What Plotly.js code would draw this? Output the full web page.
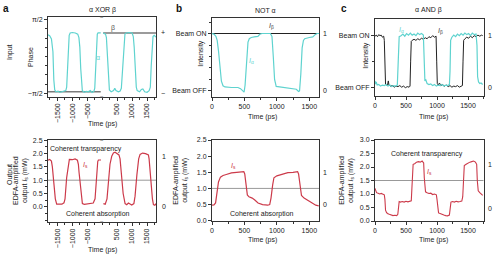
<!DOCTYPE html>
<html><head><meta charset="utf-8">
<script src="https://cdn.plot.ly/plotly-3.0.1.min.js"></script>
<style>html,body{margin:0;padding:0;background:#fff}#chart{width:500px;height:256px}</style>
</head><body><div id="chart"></div>
<script>
// ---------- DATA ----------
// Panel a (alpha XOR beta) — input phase of alpha (rad), time in ps
const xorAlpha = [[-1815,0.92],[-1760,0.88],[-1700,0.75],[-1650,0.2],[-1620,-1.0],[-1590,-1.42],[-1550,-1.5],[-1480,-1.47],[-1420,-1.52],[-1350,-1.5],[-1280,-1.47],[-1220,-1.45],[-1190,-1.3],[-1160,-0.5],[-1130,0.5],[-1106,0.9],[-1073,1.0],[-1000,1.02],[-900,1.0],[-820,0.95],[-780,0.8],[-750,0.4],[-720,-0.5],[-690,-1.2],[-666,-1.45],[-600,-1.52],[-530,-1.48],[-470,-1.5],[-400,-1.45],[-340,-1.53],[-280,-1.48],[-250,-1.35],[-220,-0.5],[-190,0.5],[-165,0.95],[-140,1.0],[-50,1.0],[null,null],[30,1.0],[110,0.95],[140,0.8],[165,0.3],[200,-0.8],[240,-1.42],[300,-1.5],[380,-1.45],[420,-1.35],[460,-1.45],[540,-1.5],[600,-1.47],[640,-1.35],[680,-0.5],[720,0.5],[760,0.95],[800,1.0],[900,1.02],[1000,1.0],[1040,0.85],[1070,0.4],[1100,-0.6],[1140,-1.3],[1170,-1.45],[1250,-1.5],[1310,-1.4],[1360,-1.38],[1420,-1.5],[1500,-1.52],[1570,-1.45],[1610,-1.3],[1640,-0.4],[1670,0.5],[1700,0.85],[1740,0.9],[1800,0.82]];
const xorBeta = [[-1815,-1.5],[-50,-1.5],[null,null],[30,1.0],[1800,1.0]];
// Panel a output Is (mW)
const xorOut = [[-1814,1.75],[-1760,1.78],[-1700,1.72],[-1669,1.5],[-1620,0.9],[-1570,0.3],[-1524,0.1],[-1450,0.09],[-1350,0.1],[-1280,0.15],[-1245,0.3],[-1190,1.1],[-1133,1.7],[-1100,1.78],[-1000,1.77],[-910,1.8],[-830,1.75],[-798,1.6],[-776,1.3],[-720,0.6],[-664,0.12],[-600,0.09],[-500,0.1],[-400,0.12],[-300,0.14],[-240,0.3],[-190,1.2],[-150,1.7],[-128,1.76],[-39,1.76],[null,null],[39,0.12],[100,0.1],[160,0.3],[206,0.9],[260,1.6],[318,1.9],[374,2.02],[430,2.05],[486,2.02],[560,1.95],[597,1.8],[631,1.4],[700,0.5],[765,0.12],[820,0.08],[876,0.14],[930,0.1],[988,0.07],[1060,0.12],[1099,0.4],[1160,1.2],[1220,1.8],[1267,1.97],[1350,2.02],[1450,2.0],[1546,1.95],[1569,1.8],[1620,1.0],[1680,0.3],[1714,0.08],[1760,0.06],[1803,0.12]];
// Panel b (NOT alpha)
const notAlpha = [[0,1.0],[30,0.99],[60,0.95],[80,0.88],[100,0.7],[120,0.4],[145,0.17],[170,0.09],[200,0.07],[300,0.06],[400,0.06],[440,0.04],[477,0.0],[495,-0.02],[510,0.1],[530,0.5],[555,0.85],[575,0.91],[605,0.93],[650,0.94],[708,0.95],[740,0.99],[770,1.0],[900,1.0],[925,0.95],[945,0.6],[965,0.2],[990,0.08],[1050,0.07],[1150,0.06],[1250,0.05],[1300,0.03],[1335,-0.01],[1350,0.0],[1370,0.3],[1390,0.75],[1410,0.88],[1430,0.91],[1500,0.93],[1554,0.94],[1590,0.98],[1620,1.0],[1650,1.0]];
const notBeta = [[0,1.0],[1650,1.0]];
const notOut = [[0,0.48],[30,0.49],[55,0.55],[75,0.8],[100,1.2],[130,1.35],[170,1.4],[220,1.43],[300,1.48],[380,1.5],[450,1.51],[490,1.52],[505,1.45],[525,1.1],[545,0.8],[570,0.74],[620,0.7],[660,0.64],[710,0.55],[780,0.5],[860,0.48],[890,0.5],[910,0.7],[935,1.1],[955,1.33],[1000,1.39],[1080,1.44],[1170,1.49],[1250,1.5],[1320,1.52],[1335,1.45],[1355,1.1],[1380,0.78],[1420,0.7],[1480,0.62],[1550,0.52],[1600,0.48],[1646,0.46]];
// Panel c (alpha AND beta)
const andBeta = [[0,0.98],[20,1.0],[40,0.97],[60,1.01],[80,0.99],[100,1.0],[120,0.96],[140,0.98],[150,0.9],[160,0.4],[170,0.06],[185,0.04],[200,0.03],[215,0.12],[225,0.04],[250,0.02],[280,0.03],[310,0.0],[340,0.02],[370,0.01],[400,0.03],[430,0.0],[460,0.02],[490,-0.01],[520,0.01],[550,0.0],[565,0.02],[575,0.5],[585,0.88],[600,0.9],[630,0.92],[660,0.9],[690,0.93],[720,0.91],[750,0.94],[780,0.92],[810,0.95],[840,0.93],[870,0.97],[900,0.95],[930,0.99],[960,0.96],[985,0.98],[995,0.5],[1005,0.07],[1020,0.04],[1040,0.08],[1060,0.03],[1090,0.05],[1120,0.02],[1150,0.04],[1180,0.01],[1210,0.03],[1240,0.0],[1270,0.02],[1300,0.01],[1330,0.03],[1360,0.0],[1390,0.02],[1410,0.03],[1420,0.5],[1430,0.9],[1450,0.93],[1480,0.96],[1510,0.94],[1540,0.98],[1570,0.95],[1600,0.99],[1630,0.97],[1660,1.0],[1690,0.98],[1720,1.0],[1737,0.99]];
const andAlpha = [[0,0.12],[10,0.06],[20,0.1],[35,0.04],[60,0.05],[90,0.02],[120,0.04],[150,0.03],[180,0.05],[210,0.02],[240,0.04],[270,0.01],[300,0.03],[330,0.02],[360,0.04],[368,0.3],[376,0.85],[390,0.97],[420,0.99],[450,1.02],[480,0.98],[510,1.03],[540,1.0],[570,1.04],[600,1.0],[630,1.02],[660,0.99],[690,1.04],[720,1.01],[750,1.03],[780,1.0],[795,0.6],[805,0.12],[820,0.14],[840,0.07],[870,0.05],[900,0.06],[930,0.03],[960,0.05],[990,0.02],[1020,0.04],[1050,0.03],[1080,0.05],[1110,0.02],[1140,0.04],[1170,0.03],[1200,0.05],[1210,0.3],[1220,0.9],[1240,0.96],[1270,1.0],[1300,0.97],[1330,1.02],[1360,0.99],[1390,1.03],[1420,1.0],[1450,1.04],[1480,1.01],[1510,1.03],[1540,0.99],[1570,1.04],[1600,1.01],[1630,1.02],[1645,0.8],[1655,0.2],[1670,0.1],[1690,0.07],[1710,0.08],[1737,0.05]];
const andOut = [[0,1.21],[10,1.15],[25,1.05],[50,1.03],[75,1.0],[100,1.02],[125,0.98],[150,0.97],[160,0.8],[170,0.4],[185,0.32],[200,0.28],[230,0.25],[260,0.22],[290,0.2],[320,0.21],[350,0.2],[368,0.25],[378,0.6],[390,0.72],[410,0.7],[440,0.72],[470,0.7],[500,0.73],[530,0.71],[560,0.72],[585,0.75],[595,1.2],[605,1.9],[615,2.1],[640,2.12],[670,2.18],[700,2.2],[730,2.18],[760,2.22],[785,2.15],[795,1.6],[805,1.15],[815,1.08],[840,1.05],[870,1.02],[900,1.03],[930,0.98],[960,1.0],[990,0.97],[1000,0.8],[1010,0.45],[1025,0.3],[1050,0.28],[1080,0.24],[1110,0.22],[1140,0.2],[1170,0.19],[1200,0.22],[1212,0.5],[1225,0.7],[1250,0.72],[1280,0.7],[1310,0.73],[1340,0.71],[1370,0.72],[1400,0.74],[1415,0.9],[1428,1.8],[1440,2.05],[1470,2.1],[1500,2.15],[1530,2.18],[1560,2.2],[1590,2.22],[1620,2.18],[1640,2.1],[1650,1.5],[1665,1.12],[1690,1.05],[1715,1.0],[1737,0.95]];
// thresholds
const thrXor = 1.0, thrNot = 1.0, thrAnd = 1.5;
// tick labels
const xorTicks = [-1500,-1000,-500,500,1000,1500];
const xorTickText = ['−1500','−1000','−500','500','1000','1500'];
const phaseTicks = [Math.PI/2, -Math.PI/2];
const phaseTickText = ['π/2','−π/2'];
const beamTicks = [0,1];
const beamTickText = ['Beam OFF','Beam ON'];
const powTicks = [0,0.5,1,1.5,2,2.5];
const powTickText = ['0.0','0.5','1.0','1.5','2.0','2.5'];

// ---------- STYLE ----------
const W=500,H=256;
const px = v=>v/W, py = v=>1-v/H;
const FONT = 'Liberation Sans, Arial, sans-serif';
const CYAN='#5fd3cf', RED='#cc3a4a', DARK='#222';
const col = (a,i)=>a.map(p=>p[i]);

function line(data, xa, ya, color, width){
  return {x:col(data,0), y:col(data,1), xaxis:xa, yaxis:ya, type:'scatter', mode:'lines',
    line:{color:color,width:width}, hoverinfo:'skip', showlegend:false};
}
const traces = [
  line(xorBeta,'x','y','#7a7a7a',1.6),
  line(xorAlpha,'x','y',CYAN,1.2),
  line(xorOut,'x2','y2',RED,1.2),
  line(notBeta,'x3','y3',DARK,1),
  line(notAlpha,'x3','y3',CYAN,1.2),
  line(notOut,'x4','y4',RED,1.2),
  line(andBeta,'x5','y5',DARK,1),
  line(andAlpha,'x5','y5',CYAN,1.2),
  line(andOut,'x6','y6',RED,1.1)
];

const base = {showline:true, linecolor:'#333', linewidth:1, mirror:true, ticks:'outside', ticklen:3,
  tickcolor:'#333', tickwidth:1, tickfont:{size:7,color:'#222',family:FONT}, showgrid:false, zeroline:false, fixedrange:true, automargin:false};
function ax(o){ return Object.assign({}, base, o); }
const minor = (d,t0)=>({ticks:'outside', tickmode:'linear', tick0:t0||0, dtick:d, ticklen:2, tickcolor:'#333', showgrid:false});
const edfa='EDFA-amplified<br>output <i>I</i><sub>s</sub> (mW)';
const ytitle = s=>({text:edfa, font:{size:7,color:'#222',family:FONT}, standoff:s});

const dA=[px(48),px(156)], dB=[px(212),px(319)], dC=[px(375),px(483.5)];
const layout = {
  width:W, height:H, margin:{l:0,r:0,t:0,b:0}, paper_bgcolor:'#fff', plot_bgcolor:'#fff',
  font:{family:FONT,size:7,color:'#222'}, showlegend:false,
  xaxis: ax({domain:dA, anchor:'y', range:[-1815,1800], tickmode:'array', tickvals:xorTicks, ticktext:xorTickText, tickangle:-90, minor:minor(250)}),
  yaxis: ax({domain:[py(96.5),py(16.5)], anchor:'x', range:[-1.7,1.7], tickmode:'array', tickvals:phaseTicks, ticktext:phaseTickText, minor:minor(Math.PI/8)}),
  xaxis2: ax({domain:dA, anchor:'y2', range:[-1815,1800], tickmode:'array', tickvals:xorTicks, ticktext:xorTickText, tickangle:-90, minor:minor(250)}),
  yaxis2: ax({domain:[py(221.7),py(139.5)], anchor:'x2', range:[-0.56,2.53], tickmode:'array', tickvals:powTicks, ticktext:powTickText, minor:minor(0.25), title:ytitle(4)}),
  xaxis3: ax({domain:dB, anchor:'y3', range:[0,1650], tick0:0, dtick:500, minor:minor(250)}),
  yaxis3: ax({domain:[py(96.7),py(18)], anchor:'x3', range:[-0.1,1.27], tickmode:'array', tickvals:beamTicks, ticktext:beamTickText, minor:minor(0.2)}),
  xaxis4: ax({domain:dB, anchor:'y4', range:[0,1650], tick0:0, dtick:500, minor:minor(250)}),
  yaxis4: ax({domain:[py(220.7),py(140)], anchor:'x4', range:[0,2.5], tick0:0, dtick:0.5, tickformat:'.1f', title:ytitle(8)}),
  xaxis5: ax({domain:dC, anchor:'y5', range:[0,1750], tick0:0, dtick:500, minor:minor(250)}),
  yaxis5: ax({domain:[py(96),py(19)], anchor:'x5', range:[-0.17,1.31], tickmode:'array', tickvals:beamTicks, ticktext:beamTickText, minor:minor(0.5)}),
  xaxis6: ax({domain:dC, anchor:'y6', range:[0,1750], tick0:0, dtick:500, minor:minor(250)}),
  yaxis6: ax({domain:[py(221),py(140)], anchor:'x6', range:[0,3], tick0:0, dtick:0.5, tickformat:'.1f', title:ytitle(5)}),
  shapes: [
    {type:'line', xref:'x2 domain', yref:'y2', x0:0, x1:1, y0:thrXor, y1:thrXor, line:{color:'#999',width:1}, layer:'below'},
    {type:'line', xref:'x4 domain', yref:'y4', x0:0, x1:1, y0:thrNot, y1:thrNot, line:{color:'#999',width:1}, layer:'below'},
    {type:'line', xref:'x6 domain', yref:'y6', x0:0, x1:1, y0:thrAnd, y1:thrAnd, line:{color:'#999',width:1}, layer:'below'}
  ],
  annotations: []
};
const A = layout.annotations;
function txt(text,x,y,o){ A.push(Object.assign({text:text, x:x, y:y, xref:'paper', yref:'paper', xanchor:'center', yanchor:'middle', showarrow:false, font:{size:7,color:'#222',family:FONT}}, o||{})); }
// panel letters
txt('<b>a</b>',px(6),py(8),{font:{size:10,color:'#111',family:FONT}});
txt('<b>b</b>',px(179),py(8),{font:{size:10,color:'#111',family:FONT}});
txt('<b>c</b>',px(344),py(8),{font:{size:10,color:'#111',family:FONT}});
// titles
txt('α XOR β',px(102),py(10));
txt('NOT α',px(265),py(10));
txt('α AND β',px(428),py(10));
// y titles
txt('Input',px(10),py(52),{textangle:-90});
txt('Phase',px(30),py(57),{textangle:-90});
txt('Output',px(10),py(175),{textangle:-90});
txt('Intensity',px(200.7),py(53),{textangle:-90});
txt('Intensity',px(365.7),py(55),{textangle:-90});
// x titles
txt('Time (ps)',px(102),py(124));
txt('Time (ps)',px(102),py(250));
txt('Time (ps)',px(262),py(117));
txt('Time (ps)',px(262),py(240));
txt('Time (ps)',px(433),py(117));
txt('Time (ps)',px(433),py(240));
// right-side state labels
function rl(text,x,ya,y){ A.push({text:text,x:px(x),xref:'paper',y:y,yref:ya,showarrow:false,xanchor:'left',yanchor:'middle',font:{size:7,color:'#222',family:FONT}}); }
rl('+',159,'y',1.0); rl('−',159,'y',-1.57);
rl('1',160,'y2',1.9); rl('0',160,'y2',0.0);
rl('1',321,'y3',1.0); rl('0',321,'y3',0.0);
rl('1',321,'y4',1.5); rl('0',321,'y4',0.5);
rl('1',486,'y5',1.0); rl('0',486,'y5',0.0);
rl('1',486,'y6',2.1); rl('0',486,'y6',0.45);
// in-plot labels
function dl(text,xa,ya,x,y,color){ A.push({text:text,x:x,y:y,xref:xa,yref:ya,xanchor:'center',yanchor:'middle',showarrow:false,font:{size:7,color:color,family:FONT}}); }
dl('β','x','y',370,1.22,'#555');
dl('α','x','y',-150,-0.06,CYAN);
dl('Coherent transparency','x2','y2',-540,2.19,'#222');
dl('Coherent absorption','x2','y2',-156,-0.28,'#222');
dl('<i>I</i><sub>s</sub>','x2','y2',-575,1.56,RED);
dl('<i>I</i><sub>β</sub>','x3','y3',918,1.13,'#444');
dl('<i>I</i><sub>α</sub>','x3','y3',615,0.52,CYAN);
dl('<i>I</i><sub>s</sub>','x4','y4',328,1.7,RED);
dl('Coherent absorption','x4','y4',765,0.2,'#222');
dl('<i>I</i><sub>α</sub>','x5','y5',435,1.1,CYAN);
dl('<i>I</i><sub>β</sub>','x5','y5',1054,1.08,'#444');
dl('Coherent transparency','x6','y6',835,2.5,'#222');
dl('<i>I</i><sub>s</sub>','x6','y6',887,1.83,RED);
// axis-break marks (panel a)
['y','y2'].forEach(ya=>{
  A.push({text:'≈',x:0,xref:'x',y:1,yref:ya+' domain',xanchor:'center',yanchor:'middle',showarrow:false,font:{size:6,color:'#555',family:FONT}});
  A.push({text:'≈',x:0,xref:'x',y:0,yref:ya+' domain',xanchor:'center',yanchor:'middle',showarrow:false,font:{size:6,color:'#555',family:FONT}});
});
Plotly.newPlot('chart', traces, layout, {staticPlot:true, displayModeBar:false});
</script></body></html>
